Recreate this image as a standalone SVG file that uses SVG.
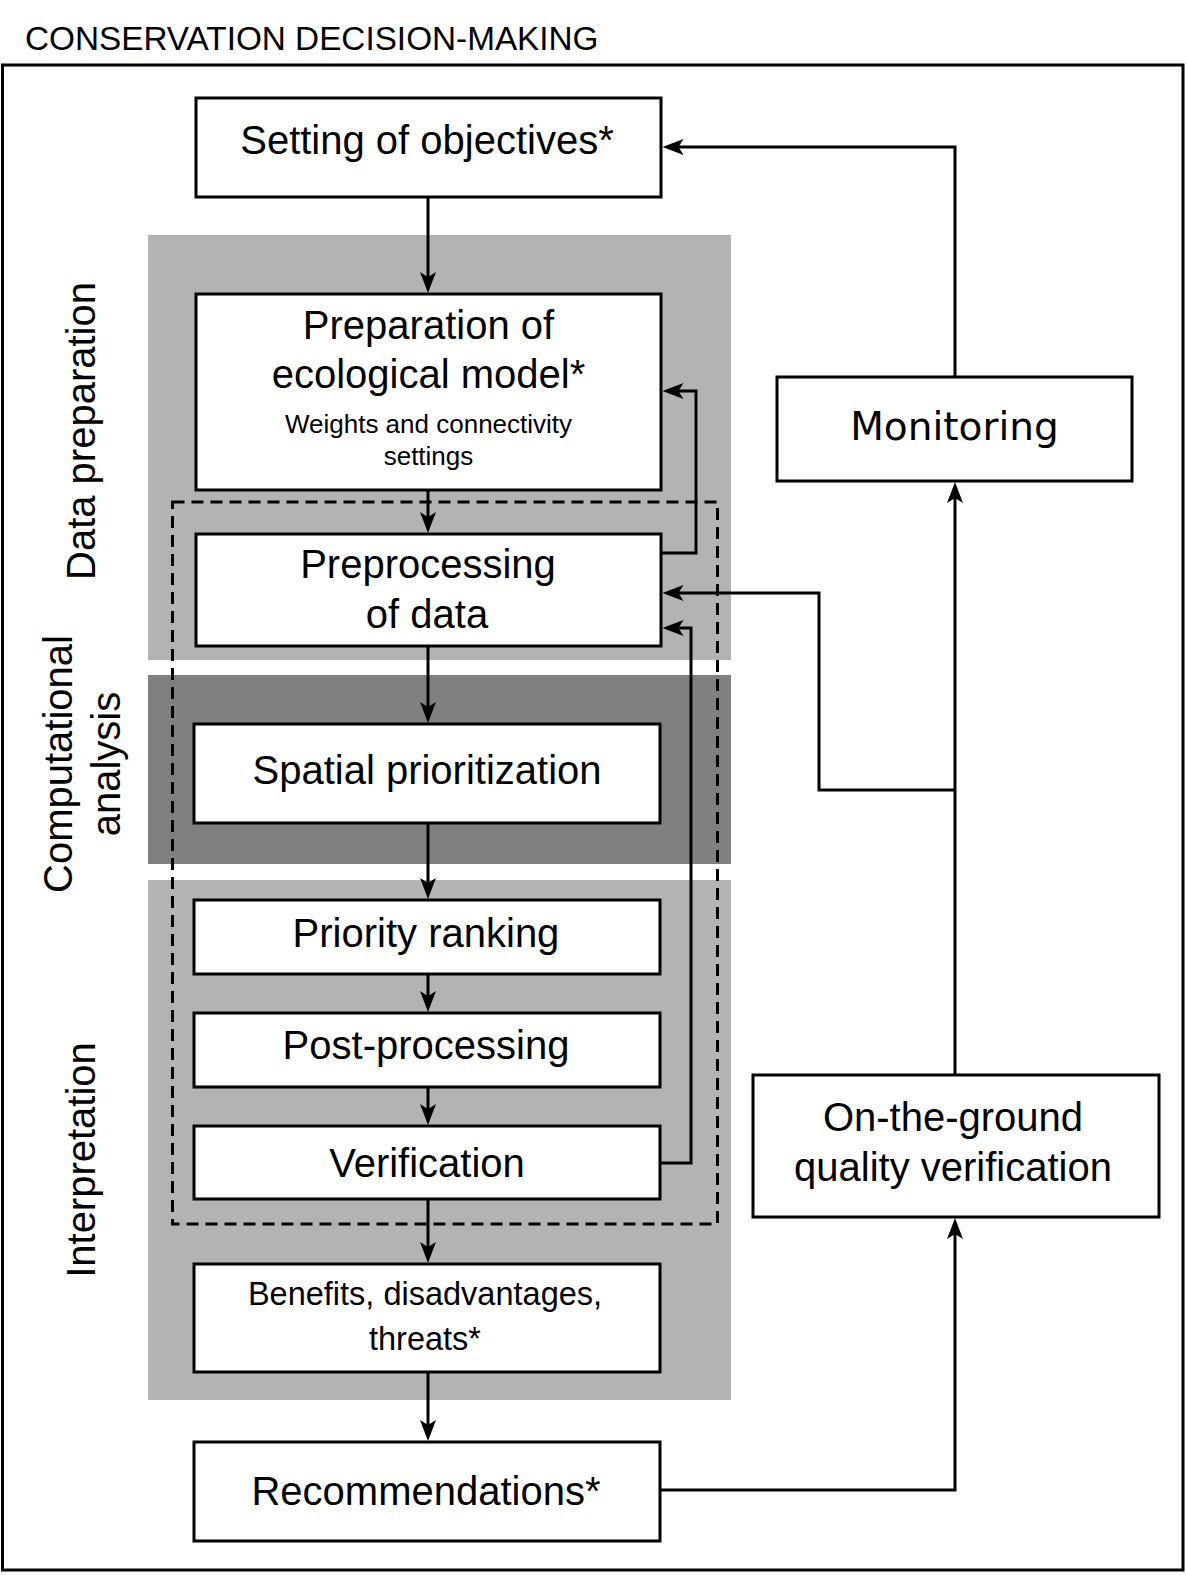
<svg xmlns="http://www.w3.org/2000/svg" width="1187" height="1575" viewBox="0 0 1187 1575">
  <style>
    .box { fill: #ffffff; stroke: #000000; stroke-width: 3; }
    .lbl { font-family: "Liberation Sans", Arial, sans-serif; font-size: 40px; fill: #000000; text-anchor: middle; }
    .mid { font-family: "Liberation Sans", Arial, sans-serif; font-size: 32.5px; fill: #000000; text-anchor: middle; }
    .small { font-family: "Liberation Sans", Arial, sans-serif; font-size: 26px; fill: #000000; text-anchor: middle; }
    .dv { font-family: "DejaVu Sans", sans-serif; font-size: 39px; fill: #000000; text-anchor: middle; }
    .conn { fill: none; stroke: #000000; stroke-width: 3; marker-end: url(#ah); }
    .light { fill: #b3b3b3; }
    .dark { fill: #808080; }
  </style>
  <defs>
    <marker id="ah" markerUnits="userSpaceOnUse" markerWidth="24" markerHeight="18" viewBox="-22 -9 24 18" refX="-12" refY="0" orient="auto">
      <path d="M0,0 L-21,-8 L-16,0 L-21,8 Z" fill="#000000"/>
    </marker>
  </defs>

  <rect x="0" y="0" width="1187" height="1575" fill="#ffffff"/>

  <text x="25" y="50" font-family="Liberation Sans, Arial, sans-serif" font-size="33.3px" fill="#000000">CONSERVATION DECISION-MAKING</text>
  <rect id="frame" x="2.5" y="65" width="1180.5" height="1505" fill="none" stroke="#000000" stroke-width="3"/>

  <g id="bands">
    <rect class="light" x="148" y="235" width="583" height="425"/>
    <rect class="dark" x="148" y="675" width="583" height="189"/>
    <rect class="light" x="148" y="880" width="583" height="520"/>
  </g>

  <g id="band-labels">
    <text class="lbl" transform="translate(95,431) rotate(-90)">Data preparation</text>
    <text class="lbl" transform="translate(72,764) rotate(-90)">Computational</text>
    <text class="lbl" transform="translate(120,764) rotate(-90)">analysis</text>
    <text class="lbl" transform="translate(95,1160) rotate(-90)">Interpretation</text>
  </g>

  <rect id="loop-region" x="172.5" y="502" width="545" height="722" fill="none" stroke="#000000" stroke-width="3" stroke-dasharray="12 7"/>

  <g id="setting">
    <rect class="box" x="196" y="98" width="465" height="99"/>
    <text class="lbl" x="427" y="154">Setting of objectives*</text>
  </g>
  <g id="preparation">
    <rect class="box" x="196" y="294" width="465" height="196"/>
    <text class="lbl" x="428.5" y="339">Preparation of</text>
    <text class="lbl" x="428.5" y="388">ecological model*</text>
    <text class="small" x="428.5" y="433">Weights and connectivity</text>
    <text class="small" x="428.5" y="465">settings</text>
  </g>
  <g id="preprocessing">
    <rect class="box" x="196" y="534" width="465" height="112"/>
    <text class="lbl" x="428" y="578">Preprocessing</text>
    <text class="lbl" x="427" y="628">of data</text>
  </g>
  <g id="spatial">
    <rect class="box" x="194" y="724" width="466" height="99"/>
    <text class="lbl" x="427" y="784">Spatial prioritization</text>
  </g>
  <g id="priority">
    <rect class="box" x="194" y="900" width="466" height="74"/>
    <text class="lbl" x="426" y="947">Priority ranking</text>
  </g>
  <g id="postprocessing">
    <rect class="box" x="194" y="1013" width="466" height="74"/>
    <text class="lbl" x="426" y="1059">Post-processing</text>
  </g>
  <g id="verification">
    <rect class="box" x="194" y="1126" width="466" height="73"/>
    <text class="lbl" x="427" y="1177">Verification</text>
  </g>
  <g id="benefits">
    <rect class="box" x="194" y="1264" width="466" height="108"/>
    <text class="mid" x="425" y="1305">Benefits, disadvantages,</text>
    <text class="mid" x="425" y="1350">threats*</text>
  </g>
  <g id="recommendations">
    <rect class="box" x="194" y="1442" width="466" height="99"/>
    <text class="lbl" x="426" y="1505">Recommendations*</text>
  </g>
  <g id="monitoring">
    <rect class="box" x="777" y="377" width="355" height="104"/>
    <text class="dv" x="954.5" y="440">Monitoring</text>
  </g>
  <g id="onground">
    <rect class="box" x="753" y="1075" width="406" height="142"/>
    <text class="lbl" x="953" y="1131">On-the-ground</text>
    <text class="lbl" x="953" y="1181">quality verification</text>
  </g>

  <g id="connectors">
    <path class="conn" d="M428,197 V281"/>
    <path class="conn" d="M428,490 V521"/>
    <path class="conn" d="M661,553 H696 V391 H674.5"/>
    <path class="conn" d="M428,646 V711"/>
    <path class="conn" d="M428,823 V887"/>
    <path class="conn" d="M428,974 V1000"/>
    <path class="conn" d="M428,1087 V1113"/>
    <path class="conn" d="M428,1199 V1251"/>
    <path class="conn" d="M428,1372 V1429"/>
    <path class="conn" d="M660,1163 H691 V628 H674.5"/>
    <path class="conn" d="M660,1490 H955 V1230"/>
    <path class="conn" d="M955,1075 V494"/>
    <path class="conn" d="M955,790 H819 V593 H674.5"/>
    <path class="conn" d="M955,377 V147 H674.5"/>
  </g>
</svg>
